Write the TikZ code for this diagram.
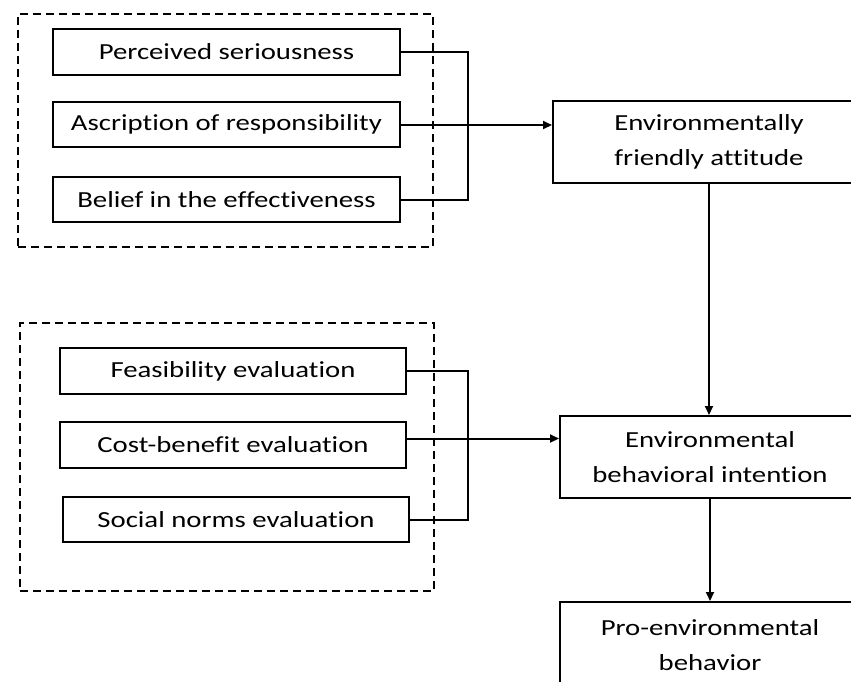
\documentclass[tikz,border=0pt]{standalone}
\usepackage{fontspec}
\setmainfont{Carlito}[FakeStretch=1.25,Ligatures=NoCommon]
\usetikzlibrary{arrows.meta}
\begin{document}
\begin{tikzpicture}[x=1pt,y=-1pt,
  box/.style={draw,line width=2pt,inner sep=0pt,align=center,
    font=\fontsize{23}{35}\selectfont},
  group/.style={draw,dashed,line width=2pt,dash pattern=on 8pt off 5pt,inner sep=0pt},
  link/.style={line width=2pt},
  arr/.style={line width=2pt,-{Triangle[length=9pt,width=8pt]}}]
\useasboundingbox (0,0) rectangle (851,681);
\clip (0,0) rectangle (851,681);
\fill[white] (0,0) rectangle (851,681);

% dashed groupings
\node[group,minimum width=415pt,minimum height=233pt] (g1) at (225.5,130.5) {};
\node[group,minimum width=414pt,minimum height=268pt] (g2) at (227,457) {};

% first group of antecedents
\node[box,minimum width=347pt,minimum height=46pt] (ps) at (226.5,52) {Perceived seriousness};
\node[box,minimum width=347pt,minimum height=45pt] (ar) at (226.5,124.5) {Ascription of responsibility};
\node[box,minimum width=347pt,minimum height=45pt] (be) at (226.5,199.5) {Belief in the effectiveness};

% second group of antecedents
\node[box,minimum width=346pt,minimum height=46pt] (fe) at (233,371) {Feasibility evaluation};
\node[box,minimum width=346pt,minimum height=46pt] (cb) at (233,445) {Cost-benefit evaluation};
\node[box,minimum width=346pt,minimum height=45pt] (sn) at (236,519.5) {Social norms evaluation};

% outcome chain
\node[box,minimum width=312pt,minimum height=82pt] (efa) at (709,142) {Environmentally\\friendly attitude};
\node[box,minimum width=300pt,minimum height=82pt] (ebi) at (710,457) {Environmental\\behavioral intention};
\node[box,minimum width=300pt,minimum height=86pt] (peb) at (710,645) {Pro-environmental\\behavior};

% junctions of the bracket connectors
\coordinate (j1) at (468,125);
\coordinate (j2) at (468,438.5);

\draw[link] (ps.east) -| (j1);
\draw[link] (be.east) -| (j1);
\draw[arr] (ar.east |- j1) -- (j1) -- (j1 -| efa.west);

\draw[link] (fe.east) -| (j2);
\draw[link] (sn.east) -| (j2);
\draw[arr] (cb.east |- j2) -- (j2) -- (j2 -| ebi.west);

\draw[arr] (efa.south) -- (efa.south |- ebi.north);
\draw[arr] (ebi.south) -- (peb.north);
\end{tikzpicture}
\end{document}
